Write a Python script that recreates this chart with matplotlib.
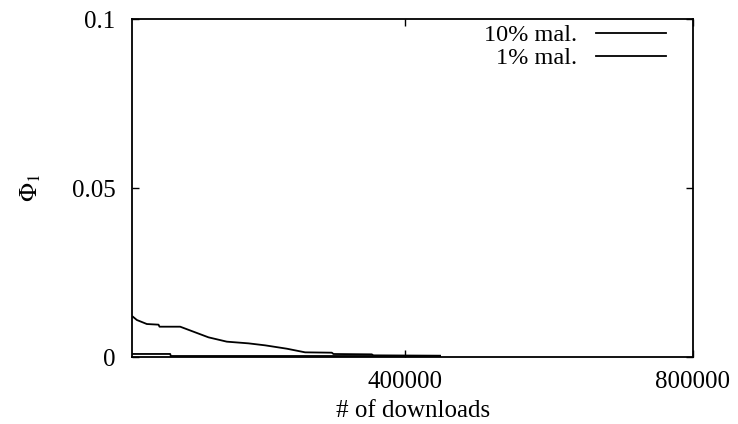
import matplotlib
matplotlib.use("Agg")
import matplotlib.pyplot as plt

# curves: # of downloads vs Phi_1
downloads_10 = [21760, 27310, 41200, 57400, 58800, 87500, 126850, 152300,
                182400, 205600, 235650, 261100, 298150, 300460, 353700,
                356000, 448600]
phi_10 = [0.01193, 0.01095, 0.00976, 0.00957, 0.00897, 0.00897, 0.00582,
          0.00454, 0.00404, 0.00345, 0.00246, 0.00138, 0.00128, 0.00089,
          0.00079, 0.00049, 0.00039]

downloads_1 = [21760, 73600, 74500, 448600]
phi_1 = [0.0009, 0.0009, 0.0003, 0.0003]

plt.rcParams['font.family'] = ['Liberation Serif', 'DejaVu Serif']
plt.rcParams['mathtext.fontset'] = 'stix'

fs = 18

fig = plt.figure(figsize=(7.38, 4.24), dpi=100)
ax = fig.add_axes([0.1793, 0.158, 0.7597, 0.797])

ax.plot(downloads_10, phi_10, color='black', lw=1.3, label='10% mal.')
ax.plot(downloads_1, phi_1, color='black', lw=1.3, label='1% mal.')

ax.set_xlim(21000, 800000)
ax.set_ylim(0, 0.1)
ax.set_xticks([400000, 800000])
ax.set_xticklabels(['400000', '800000'])
ax.set_yticks([0, 0.05, 0.1])
ax.set_yticklabels(['0', '0.05', '0.1'])
ax.tick_params(direction='in', top=True, right=True, length=5, width=1,
               labelsize=fs, colors='black')
ax.tick_params(axis='x', pad=10)
ax.tick_params(axis='y', pad=12)
for s in ax.spines.values():
    s.set_linewidth(1.3)

ax.set_xlabel('# of downloads', fontsize=fs, labelpad=5)
ax.set_ylabel(r'$\Phi_1$', fontsize=fs, labelpad=21)

ax.legend(loc='upper right', markerfirst=False, frameon=False, fontsize=17.5,
          handlelength=2.9, handletextpad=0.75, labelspacing=0.05,
          borderpad=0, borderaxespad=0, bbox_to_anchor=(0.952, 0.985))

fig.savefig('out.png', dpi=100)
